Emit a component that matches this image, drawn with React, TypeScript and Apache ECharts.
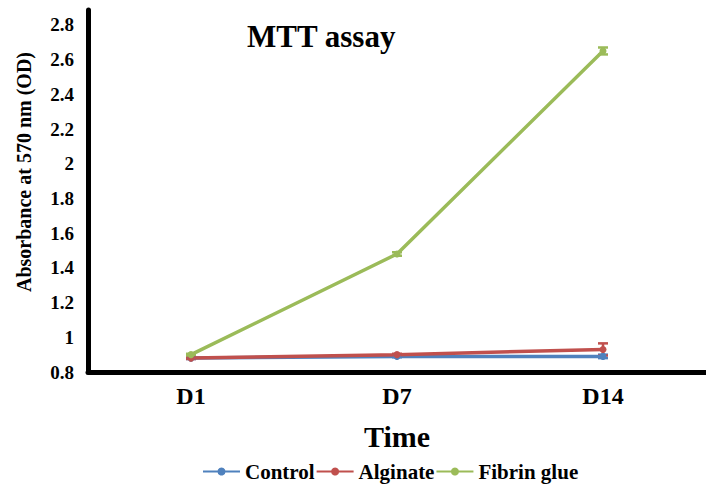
import React, { useEffect, useRef } from "react";
import * as echarts from "echarts";

const categories = ["D1", "D7", "D14"];
const controlValues = [0.88, 0.89, 0.89];
const alginateValues = [0.88, 0.9, 0.93];
const fibrinValues = [0.9, 1.48, 2.65];
const controlErr = [0.005, 0.005, 0.01];
const alginateErr = [0.005, 0.005, 0.035];
const fibrinErr = [0.005, 0.01, 0.02];
const seriesNames = ["Control", "Alginate", "Fibrin glue"];
const colors = ["#4F81BD", "#C0504D", "#9BBB59"];

const FONT = "Liberation Serif";

function errSeries(name: string, vals: number[], errs: number[], color: string) {
  return {
    type: "custom",
    name: name + " err",
    z: 1,
    silent: true,
    data: vals.map((v, i) => [i, v - errs[i], v + errs[i]]),
    renderItem: (params: any, api: any) => {
      const x = api.value(0);
      const lo = api.coord([x, api.value(1)]);
      const hi = api.coord([x, api.value(2)]);
      const w = 5;
      const style = { stroke: color, lineWidth: 2.5 };
      return {
        type: "group",
        children: [
          { type: "line", shape: { x1: lo[0], y1: lo[1], x2: hi[0], y2: hi[1] }, style },
          { type: "line", shape: { x1: hi[0] - w, y1: hi[1], x2: hi[0] + w, y2: hi[1] }, style },
          { type: "line", shape: { x1: lo[0] - w, y1: lo[1], x2: lo[0] + w, y2: lo[1] }, style },
        ],
      };
    },
  };
}

export default function App() {
  const ref = useRef<HTMLDivElement>(null);
  useEffect(() => {
    if (!ref.current) return;
    const chart = echarts.init(ref.current, undefined, { renderer: "svg" });
    const lineSeries = [controlValues, alginateValues, fibrinValues].map((vals, i) => ({
      type: "line",
      name: seriesNames[i],
      data: vals,
      symbol: "circle",
      symbolSize: 7,
      z: 2,
      itemStyle: { color: colors[i] },
      lineStyle: { color: colors[i], width: 3.5 },
    }));
    chart.setOption({
      animation: false,
      backgroundColor: "#ffffff",
      textStyle: { fontFamily: FONT, fontWeight: "bold" },
      title: {
        text: "MTT assay",
        left: 247,
        top: 21,
        padding: 0,
        textStyle: { fontFamily: FONT, fontWeight: "bold", fontSize: 31, color: "#000" },
      },
      legend: {
        data: seriesNames,
        left: 202,
        top: 461,
        itemWidth: 37,
        itemHeight: 10,
        itemGap: 1,
        padding: 0,
        textStyle: { fontFamily: FONT, fontWeight: "bold", fontSize: 21, color: "#000" },
      },
      grid: { left: 88, right: 0, top: 10, bottom: 120, containLabel: false },
      xAxis: {
        type: "category",
        data: categories,
        boundaryGap: true,
        name: "Time",
        nameLocation: "middle",
        nameGap: 49,
        nameTextStyle: { fontFamily: FONT, fontWeight: "bold", fontSize: 30, color: "#000" },
        axisLine: { show: true, lineStyle: { color: "#000", width: 5 } },
        axisTick: { show: false },
        axisLabel: { margin: 12, fontFamily: FONT, fontWeight: "bold", fontSize: 24, color: "#000" },
        splitLine: { show: false },
      },
      yAxis: {
        type: "value",
        min: 0.8,
        max: 2.886,
        interval: 0.2,
        axisLine: { show: true, lineStyle: { color: "#000", width: 5 } },
        axisTick: { show: false },
        splitLine: { show: false },
        axisLabel: {
          margin: 14,
          showMaxLabel: false,
          fontFamily: FONT,
          fontWeight: "bold",
          fontSize: 19,
          color: "#000",
        },
      },
      graphic: [
        {
          type: "text",
          x: 24,
          y: 172,
          rotation: Math.PI / 2,
          style: {
            text: "Absorbance at 570 nm (OD)",
            fontFamily: FONT,
            fontWeight: "bold",
            fontSize: 20,
            fill: "#000",
            align: "center",
            verticalAlign: "middle",
          },
        },
      ],
      series: [
        ...lineSeries,
        errSeries("Control", controlValues, controlErr, colors[0]),
        errSeries("Alginate", alginateValues, alginateErr, colors[1]),
        errSeries("Fibrin glue", fibrinValues, fibrinErr, colors[2]),
      ],
    });
    return () => chart.dispose();
  }, []);
  return (
    <div
      ref={ref}
      style={{ position: "absolute", left: 0, top: 0, width: 706, height: 492, background: "#fff" }}
    />
  );
}
